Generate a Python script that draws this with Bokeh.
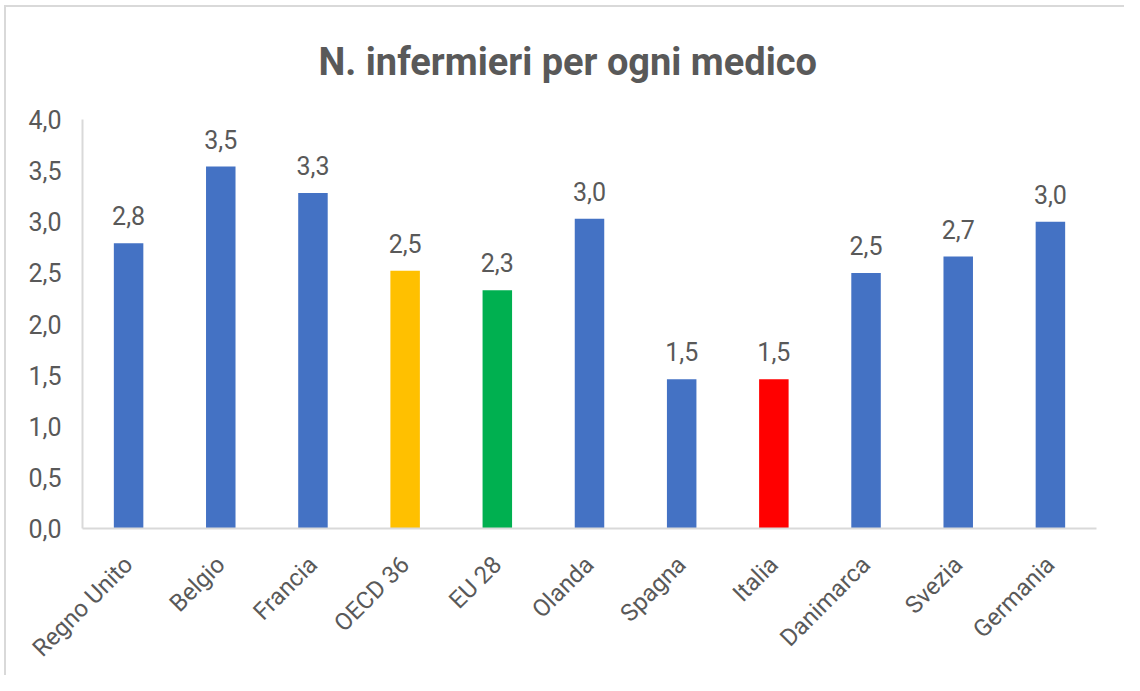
import math
from bokeh.plotting import figure
from bokeh.models import ColumnDataSource, LabelSet, Range1d, FixedTicker, CustomJSTickFormatter
from bokeh.core.properties import value
from bokeh.embed import file_html
from bokeh.resources import INLINE

categories = ["Regno Unito", "Belgio", "Francia", "OECD 36", "EU 28", "Olanda",
              "Spagna", "Italia", "Danimarca", "Svezia", "Germania"]
values = [2.79, 3.54, 3.28, 2.52, 2.33, 3.03, 1.46, 1.46, 2.50, 2.66, 3.00]
colors = ["#4472C4", "#4472C4", "#4472C4", "#FFC000", "#00B050", "#4472C4",
          "#4472C4", "#FF0000", "#4472C4", "#4472C4", "#4472C4"]
y_ticks = [0.0, 0.5, 1.0, 1.5, 2.0, 2.5, 3.0, 3.5, 4.0]
title_text = "N. infermieri per ogni medico"

FONT = "Roboto"
GREY = "#595959"

labels = [f"{v:.1f}".replace(".", ",") for v in values]
src = ColumnDataSource(dict(cat=categories, val=values, col=colors, lab=labels))

p = figure(x_range=categories, y_range=Range1d(0, 4),
           width=1124, height=675, output_backend="svg", toolbar_location=None,
           min_border_left=82, min_border_right=28, min_border_top=119, min_border_bottom=147)
p.styles = {"box-shadow": "inset 4px 5px 0 0 #ffffff, inset 6px 7px 0 0 #d9d9d9"}

p.vbar(x="cat", top="val", width=0.32, fill_color="col", line_color=None, source=src)

p.add_layout(LabelSet(x="cat", y="val", text="lab", source=src, y_offset=18,
                      text_align="center", text_baseline="alphabetic",
                      text_font=value(FONT), text_font_size="25px", text_color=GREY))

p.title.text = title_text
p.title.align = "left"
p.title.text_font = FONT
p.title.text_font_size = "38px"
p.title.text_font_style = "bold"
p.title.text_color = GREY
p.title.offset = 236
p.title.standoff = 71

p.xgrid.visible = False
p.ygrid.visible = False
p.outline_line_color = None
p.background_fill_color = None
p.border_fill_color = None

p.yaxis.ticker = FixedTicker(ticks=y_ticks)
p.yaxis.formatter = CustomJSTickFormatter(code="return tick.toFixed(1).replace('.', ',');")
for ax in (p.xaxis, p.yaxis):
    ax.axis_line_color = "#d9d9d9"
    ax.axis_line_width = 2
    ax.major_tick_line_color = None
    ax.minor_tick_line_color = None
    ax.major_label_text_font = FONT
    ax.major_label_text_color = GREY
p.yaxis.major_label_text_font_size = "25px"
p.yaxis.major_label_standoff = 15
p.xaxis.major_label_text_font_size = "24px"
p.xaxis.major_label_orientation = math.pi / 4
p.xaxis.major_label_standoff = 26
p.x_range.range_padding = 0.0

open("out.html", "w").write(file_html(p, INLINE))
